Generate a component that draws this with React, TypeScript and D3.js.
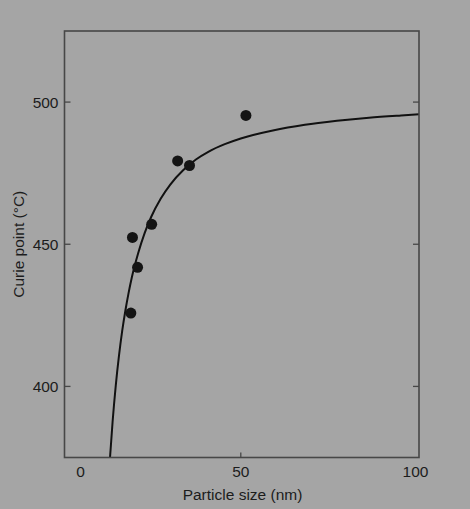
import React from "react";
import * as d3 from "d3";

const pointSizes = [51.6, 30.3, 34.0, 22.2, 16.2, 17.8, 15.7];
const pointCurie = [495.3, 479.3, 477.7, 457.0, 452.4, 441.9, 425.8];

const curveSizes = [9.2, 10, 11, 12, 13, 14, 15, 16, 18, 20, 22, 25, 28, 32, 36, 40, 45, 50, 60, 70, 80, 90, 100, 105.6];
const curveCurie = [375, 387.5, 400.4, 410.8, 419.5, 426.7, 432.9, 438.3, 446.9, 453.9, 459.5, 466.0, 471.0, 476.0, 479.8, 482.6, 485.2, 487.2, 490.0, 492.0, 493.4, 494.5, 495.3, 495.7];

const xTickLabels = [0, 50, 100];
const xTickMarks = [50];
const yTicks = [400, 450, 500];

const W = 470;
const H = 509;
const BG = "#a5a5a5";
const TEXT = "#1c1c1c";
const FRAME = "#474747";

export default function App() {
  const left = 64.5, right = 419, top = 31, bottom = 457.5;
  const x = d3.scaleLinear().domain([-5, 105.6]).range([left, right]);
  const y = d3.scaleLinear().domain([375, 525]).range([bottom, top]);

  const curveData = curveSizes.map((s, i) => [s, curveCurie[i]] as [number, number]);
  const line = d3
    .line<[number, number]>()
    .x((d) => x(d[0]))
    .y((d) => y(d[1]))
    .curve(d3.curveMonotoneX);

  const font = "'Liberation Sans', Arial, Helvetica, sans-serif";
  const fs = 15.5;

  return (
    <svg
      width={W}
      height={H}
      style={{ position: "absolute", left: 0, top: 0, background: BG }}
      fontFamily={font}
    >
      <rect x={0} y={0} width={W} height={H} fill={BG} />
      <defs>
        <clipPath id="plotclip">
          <rect x={left} y={top} width={right - left} height={bottom - top} />
        </clipPath>
      </defs>
      <path
        d={line(curveData) || ""}
        fill="none"
        stroke="#111"
        strokeWidth={2}
        clipPath="url(#plotclip)"
      />
      {pointSizes.map((s, i) => (
        <circle key={i} cx={x(s)} cy={y(pointCurie[i])} r={5.5} fill="#141414" />
      ))}
      <rect
        x={left}
        y={top}
        width={right - left}
        height={bottom - top}
        fill="none"
        stroke={FRAME}
        strokeWidth={1.6}
      />
      {yTicks.map((t) => (
        <g key={t}>
          <line x1={left} x2={left + 6} y1={y(t)} y2={y(t)} stroke={FRAME} strokeWidth={1.3} />
          <line x1={right - 6} x2={right} y1={y(t)} y2={y(t)} stroke={FRAME} strokeWidth={1.3} />
          <text
            x={left - 6}
            y={y(t)}
            dy="0.35em"
            textAnchor="end"
            fontSize={fs}
            fill={TEXT}
          >
            {t}
          </text>
        </g>
      ))}
      {xTickMarks.map((t) => (
        <line key={t} x1={x(t)} x2={x(t)} y1={bottom} y2={bottom - 5} stroke={FRAME} strokeWidth={1.3} />
      ))}
      {xTickLabels.map((t) => (
        <text
          key={t}
          x={x(t) + (t === 100 ? 14.5 : 0)}
          y={477}
          textAnchor="middle"
          fontSize={fs}
          fill={TEXT}
        >
          {t}
        </text>
      ))}
      <text x={242.5} y={500} textAnchor="middle" fontSize={fs} fill={TEXT}>
        Particle size (nm)
      </text>
      <text
        transform={`translate(23.5, ${(top + bottom) / 2}) rotate(-90)`}
        textAnchor="middle"
        fontSize={fs}
        fill={TEXT}
      >
        Curie point (°C)
      </text>
    </svg>
  );
}
